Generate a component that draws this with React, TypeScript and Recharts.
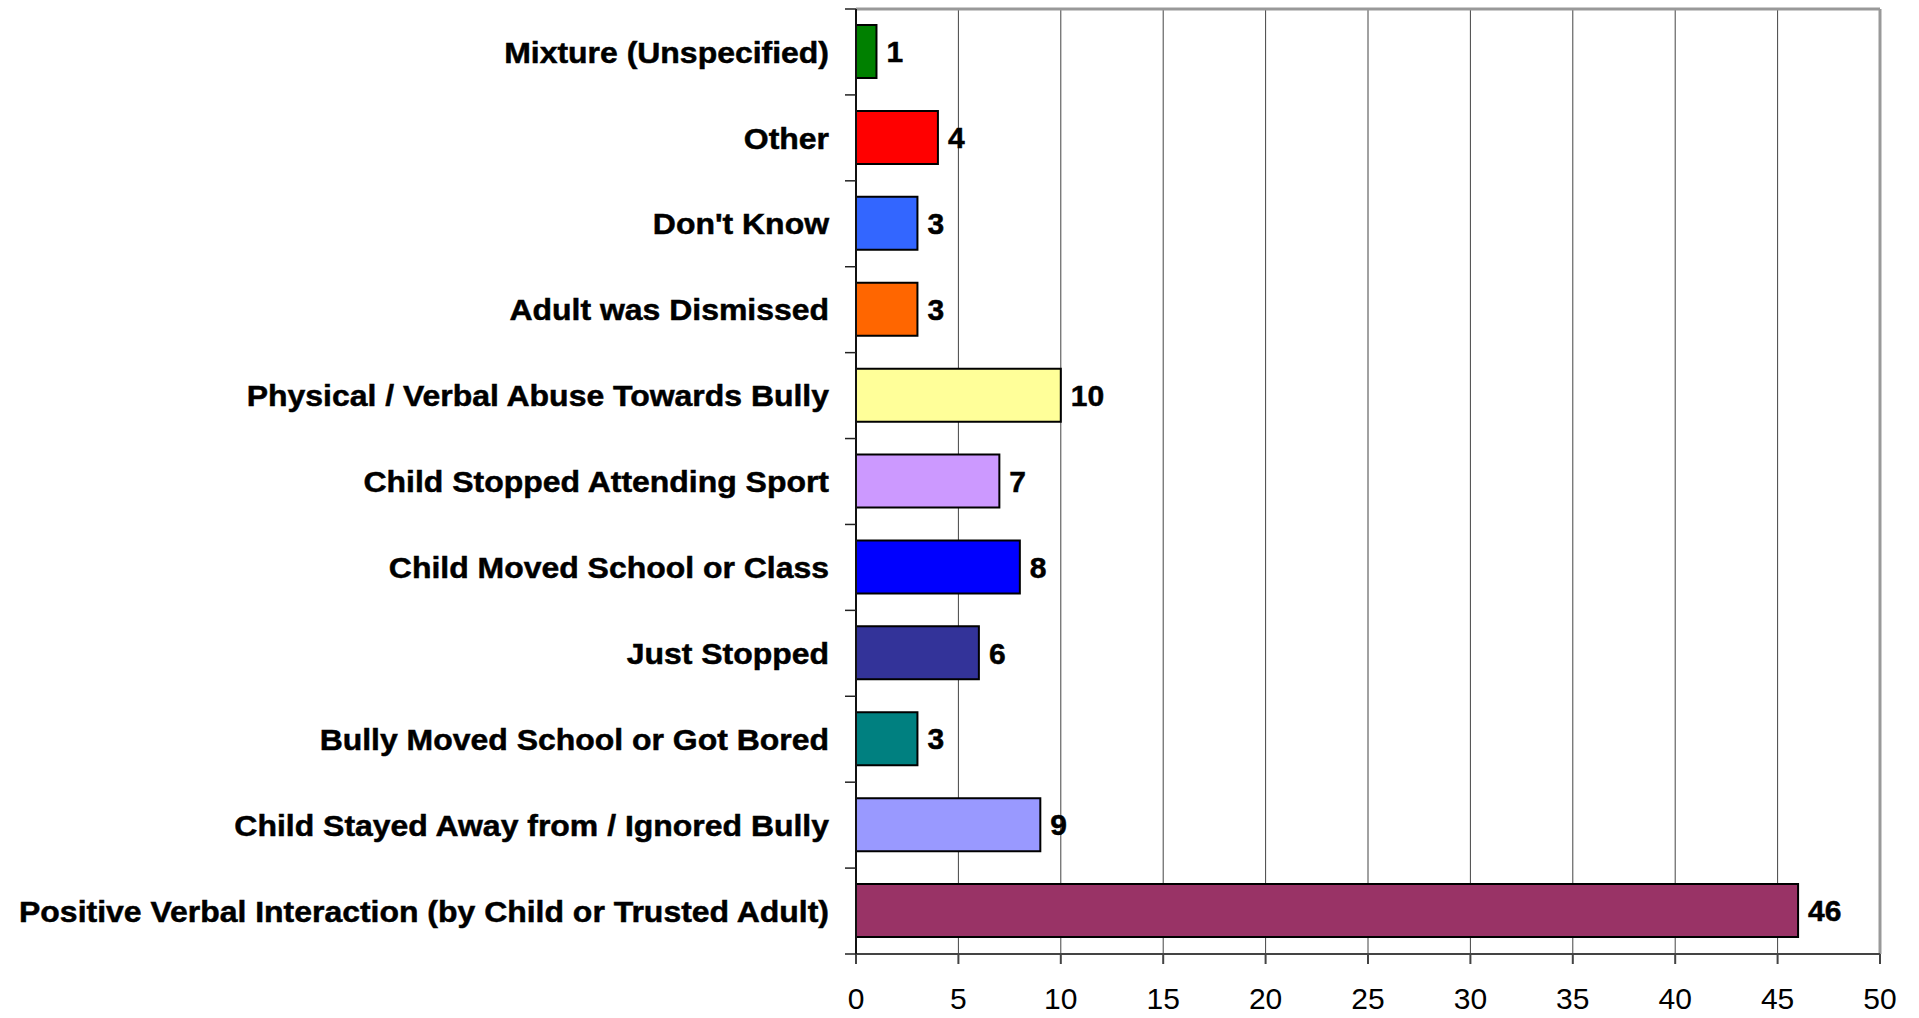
import { BarChart, Bar, XAxis, YAxis, CartesianGrid, Cell, LabelList, ReferenceLine } from 'recharts';

const categories = [
  'Mixture (Unspecified)',
  'Other',
  "Don't Know",
  'Adult was Dismissed',
  'Physical / Verbal Abuse Towards Bully',
  'Child Stopped Attending Sport',
  'Child Moved School or Class',
  'Just Stopped',
  'Bully Moved School or Got Bored',
  'Child Stayed Away from / Ignored Bully',
  'Positive Verbal Interaction (by Child or Trusted Adult)',
];
const counts = [1, 4, 3, 3, 10, 7, 8, 6, 3, 9, 46];
const barColors = [
  '#008000', '#FF0000', '#3366FF', '#FF6600', '#FFFF99', '#CC99FF',
  '#0000FF', '#333399', '#008080', '#9999FF', '#993366',
];
const xTicks = [0, 5, 10, 15, 20, 25, 30, 35, 40, 45, 50];

const data = categories.map((name, i) => ({ name, value: counts[i] }));

const FONT = '"Liberation Sans", Arial, sans-serif';
const W = 1919;
const H = 1018;
const MARGIN_TOP = 8;
const TOP_AXIS_H = 1;
const X_AXIS_H = 64;
const Y_AXIS_W = 856;
const TICK_SIZE = 11;
const TICK_MARGIN = 16;
const BAND = (H - MARGIN_TOP - TOP_AXIS_H - X_AXIS_H) / categories.length;

// category label plus the small tick marks that sit between categories
function CategoryTick(props: any) {
  const { x, y, payload, index } = props;
  const x1 = x + TICK_MARGIN;
  const x2 = x1 + TICK_SIZE;
  return (
    <g>
      <line x1={x1} x2={x2} y1={y - BAND / 2} y2={y - BAND / 2} stroke="#222" strokeWidth={1.5} />
      {index === categories.length - 1 && (
        <line x1={x1} x2={x2} y1={y + BAND / 2} y2={y + BAND / 2} stroke="#222" strokeWidth={1.5} />
      )}
      <text
        transform={`translate(${x},${y}) scale(1.065,1)`}
        x={0}
        y={0}
        dy="0.355em"
        textAnchor="end"
        fontFamily={FONT}
        fontWeight="bold"
        fontSize={30}
        fill="#000"
        stroke="#000"
        strokeWidth={0.5}
      >
        {payload.value}
      </text>
    </g>
  );
}

export default function App() {
  return (
    <div style={{ position: 'absolute', left: 0, top: 0, width: W, height: H, background: '#fff' }}>
      <BarChart
        width={W}
        height={H}
        data={data}
        layout="vertical"
        margin={{ top: MARGIN_TOP, right: 39, bottom: 0, left: 0 }}
      >
        <CartesianGrid horizontal={false} stroke="#444" />
        <XAxis
          type="number"
          domain={[0, 50]}
          ticks={xTicks}
          height={X_AXIS_H}
          tickSize={10}
          tickMargin={24}
          axisLine={{ stroke: '#444', strokeWidth: 2 }}
          tickLine={{ stroke: '#444', strokeWidth: 2 }}
          tick={{ fontFamily: FONT, fontSize: 30, fill: '#000' }}
        />
        <XAxis
          xAxisId="top"
          orientation="top"
          type="number"
          domain={[0, 50]}
          height={TOP_AXIS_H}
          tick={false}
          tickLine={false}
          axisLine={{ stroke: '#999', strokeWidth: 3 }}
        />
        <YAxis
          type="category"
          dataKey="name"
          width={Y_AXIS_W}
          tickSize={TICK_SIZE}
          tickMargin={TICK_MARGIN}
          tickLine={false}
          axisLine={{ stroke: '#111', strokeWidth: 2 }}
          tick={<CategoryTick />}
          interval={0}
        />
        <ReferenceLine x={50} stroke="#999" strokeWidth={3} />
        <Bar dataKey="value" barSize={53} stroke="#000" strokeWidth={2} isAnimationActive={false}>
          {data.map((d, i) => (
            <Cell key={d.name} fill={barColors[i]} />
          ))}
          <LabelList
            dataKey="value"
            position="right"
            offset={10}
            style={{ fontFamily: FONT, fontWeight: 'bold', fontSize: 30, fill: '#000', stroke: '#000', strokeWidth: 0.5 }}
          />
        </Bar>
      </BarChart>
    </div>
  );
}
